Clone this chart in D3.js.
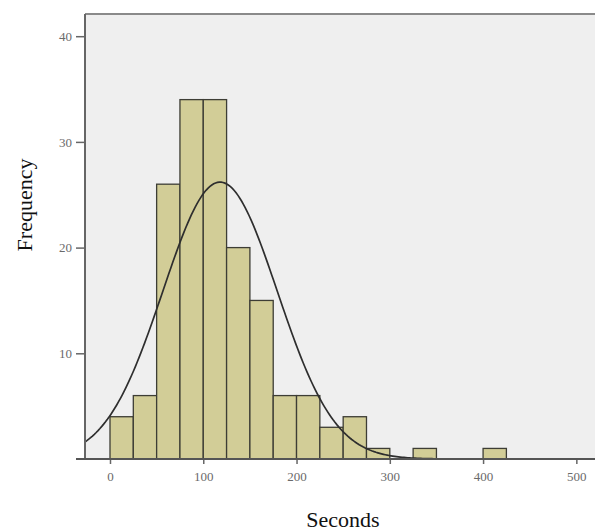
<!DOCTYPE html>
<html>
<head>
<meta charset="utf-8">
<script src="https://cdn.jsdelivr.net/npm/d3@7"></script>
<style>
  body { margin: 0; background: #fff; }
  svg { display: block; }
</style>
</head>
<body>
<script>
// histogram bins (start of each 25 s bin) and counts
var binStarts = [0, 25, 50, 75, 100, 125, 150, 175, 200, 225, 250, 275, 300, 325, 350, 375, 400];
var counts    = [4, 6, 26, 34, 34, 20, 15, 6, 6, 3, 4, 1, 0, 1, 0, 0, 1];
var binWidth = 25;

// fitted normal curve parameters (estimated from the drawn curve)
var curveMean = 118,
    curveSd = 61.3;

var xTicks = [0, 100, 200, 300, 400, 500];
var yTicks = [10, 20, 30, 40];

var width = 595, height = 532;
var margin = { left: 85, right: 0, top: 14, bottom: 73 };
var plotW = width - margin.left - margin.right,
    plotH = height - margin.top - margin.bottom;

var x = d3.scaleLinear().domain([-26.8, 520]).range([0, plotW]);
var y = d3.scaleLinear().domain([0, 42.1]).range([plotH, 0]);

var serif = "'Liberation Serif', 'DejaVu Serif', serif";

var svg = d3.select("body").append("svg")
    .attr("width", width)
    .attr("height", height);

var g = svg.append("g")
    .attr("transform", "translate(" + margin.left + "," + margin.top + ")");

// plot background
g.append("rect")
    .attr("width", plotW + 2)
    .attr("height", plotH)
    .attr("fill", "#efefef");

// top border
g.append("line")
    .attr("x1", 0).attr("x2", plotW + 2)
    .attr("y1", 0).attr("y2", 0)
    .attr("stroke", "#8a8a8a")
    .attr("stroke-width", 2);

// bars
var total = d3.sum(counts);
var bars = binStarts.map(function(s, i) { return { x0: s, x1: s + binWidth, n: counts[i] }; })
    .filter(function(d) { return d.n > 0; });

g.selectAll(".bar")
    .data(bars)
    .enter().append("rect")
    .attr("class", "bar")
    .attr("x", function(d) { return x(d.x0); })
    .attr("y", function(d) { return y(d.n); })
    .attr("width", function(d) { return x(d.x1) - x(d.x0); })
    .attr("height", function(d) { return y(0) - y(d.n); })
    .attr("fill", "#d2cd97")
    .attr("stroke", "#3d3d35")
    .attr("stroke-width", 1.3);

// normal curve scaled to counts
var curvePts = d3.range(x.domain()[0], x.domain()[1] + 1, 2).map(function(v) {
    var z = (v - curveMean) / curveSd;
    return [v, total * binWidth / (curveSd * Math.sqrt(2 * Math.PI)) * Math.exp(-0.5 * z * z)];
});

g.append("path")
    .datum(curvePts)
    .attr("fill", "none")
    .attr("stroke", "#2e2e2e")
    .attr("stroke-width", 1.7)
    .attr("d", d3.line()
        .x(function(d) { return x(d[0]); })
        .y(function(d) { return y(d[1]); }));

// y axis
var yAxis = g.append("g")
    .call(d3.axisLeft(y).tickValues(yTicks).tickSize(9).tickPadding(4).tickFormat(d3.format("d")));
yAxis.select(".domain").remove();
yAxis.selectAll(".tick line").attr("stroke", "#666").attr("stroke-width", 1.5);
yAxis.selectAll(".tick text")
    .attr("fill", "#6a6a6a")
    .style("font-family", serif)
    .style("font-size", "13px");

g.append("line")
    .attr("x1", 0).attr("x2", 0)
    .attr("y1", 0).attr("y2", plotH)
    .attr("stroke", "#666")
    .attr("stroke-width", 2);

// x axis
var xAxis = g.append("g")
    .attr("transform", "translate(0," + plotH + ")")
    .call(d3.axisBottom(x).tickValues(xTicks).tickSize(5).tickPadding(8).tickFormat(d3.format("d")));
xAxis.select(".domain").remove();
xAxis.selectAll(".tick line").attr("stroke", "#666").attr("stroke-width", 1.5);
xAxis.selectAll(".tick text")
    .attr("fill", "#6a6a6a")
    .style("font-family", serif)
    .style("font-size", "13px");

g.append("line")
    .attr("x1", -9).attr("x2", plotW + 2)
    .attr("y1", plotH).attr("y2", plotH)
    .attr("stroke", "#555")
    .attr("stroke-width", 2);

// axis titles
svg.append("text")
    .attr("x", margin.left + plotW / 2 + 3)
    .attr("y", 527)
    .attr("text-anchor", "middle")
    .style("font-family", serif)
    .style("font-size", "22px")
    .attr("fill", "#111")
    .text("Seconds");

svg.append("text")
    .attr("transform", "translate(32,205) rotate(-90)")
    .attr("text-anchor", "middle")
    .style("font-family", serif)
    .style("font-size", "22px")
    .attr("fill", "#111")
    .text("Frequency");
</script>
</body>
</html>
